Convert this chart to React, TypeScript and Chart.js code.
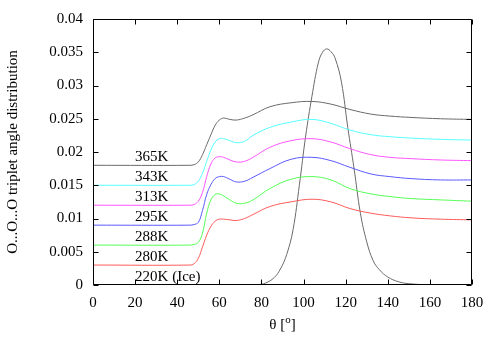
import React, { useEffect, useRef } from "react";
import { Chart, registerables } from "chart.js";

Chart.register(...registerables);

// Angle grid (degrees) for liquid curves
const THETA = [0, 46, 48, 50, 52, 54, 56, 58, 60, 62, 65, 68, 72, 76, 84, 94, 104, 113, 122, 132, 141, 151, 165, 180];

const T365 = [0.018, 0.018, 0.0181, 0.0185, 0.0196, 0.0211, 0.0226, 0.024, 0.0248, 0.0251, 0.0249, 0.0248, 0.0251, 0.0256, 0.0268, 0.0274, 0.0276, 0.0272, 0.0264, 0.0257, 0.0254, 0.0252, 0.025, 0.0249];
const T343 = [0.015, 0.015, 0.0151, 0.0156, 0.0168, 0.0186, 0.0203, 0.0215, 0.022, 0.022, 0.0217, 0.0214, 0.0216, 0.0225, 0.0237, 0.0245, 0.0249, 0.0243, 0.0233, 0.0226, 0.0223, 0.0221, 0.0219, 0.0218];
const T313 = [0.012, 0.012, 0.0121, 0.0126, 0.0139, 0.0163, 0.0182, 0.0191, 0.0193, 0.0192, 0.0188, 0.0185, 0.0186, 0.0192, 0.0207, 0.0217, 0.022, 0.0215, 0.0205, 0.0196, 0.0192, 0.019, 0.0188, 0.0187];
const T295 = [0.009, 0.009, 0.0091, 0.0094, 0.0112, 0.0136, 0.0151, 0.016, 0.0163, 0.0163, 0.0159, 0.0155, 0.0156, 0.0162, 0.0175, 0.0189, 0.0192, 0.0187, 0.0177, 0.0167, 0.0163, 0.016, 0.0158, 0.0158];
const T288 = [0.006, 0.006, 0.0061, 0.0064, 0.0078, 0.0108, 0.0128, 0.0136, 0.0137, 0.0134, 0.0128, 0.0123, 0.0123, 0.0128, 0.0145, 0.0159, 0.0163, 0.0158, 0.0145, 0.0137, 0.0133, 0.013, 0.0128, 0.0126];
const T280 = [0.003, 0.003, 0.0032, 0.004, 0.0057, 0.0075, 0.0088, 0.0096, 0.0099, 0.0099, 0.0098, 0.0097, 0.01, 0.0106, 0.0118, 0.0125, 0.0129, 0.0125, 0.0115, 0.0108, 0.0104, 0.0101, 0.0099, 0.0098];

// Ice (220K)
const THETA_ICE = [0, 70, 78, 82, 86, 89, 92, 95, 98, 101, 104, 107, 109, 111, 113, 115, 118, 121, 124, 127, 130, 133, 136, 140, 145, 150, 160, 180];
const T220 = [0, 0, 0.00005, 0.0003, 0.0011, 0.0024, 0.0046, 0.0083, 0.015, 0.0224, 0.0284, 0.0334, 0.035, 0.0355, 0.0351, 0.0341, 0.0305, 0.0237, 0.0175, 0.0108, 0.0065, 0.0037, 0.0023, 0.0012, 0.0005, 0.0002, 0.00003, 0];

const LABELS = ["365K", "343K", "313K", "295K", "288K", "280K", "220K (Ice)"];
const OFFSETS = [0.018, 0.015, 0.012, 0.009, 0.006, 0.003, 0];
const LABEL_THETA = 20;

const X_TICKS = [0, 20, 40, 60, 80, 100, 120, 140, 160, 180];
const Y_TICKS = [0, 0.005, 0.01, 0.015, 0.02, 0.025, 0.03, 0.035, 0.04];

const Y_TITLE = "O...O...O triplet angle distribution";

const FONT = "'Liberation Serif', 'DejaVu Serif', serif";
const FS = 15;

function pts(xs: number[], ys: number[]) {
  return xs.map((x, i) => ({ x, y: ys[i] }));
}

const framePlugin = {
  id: "gnuplotFrame",
  afterDraw(chart: any) {
    const { ctx, chartArea } = chart;
    const xs = chart.scales.x;
    const ys = chart.scales.y;
    const L = Math.round(chartArea.left) + 0.5;
    const R = Math.round(chartArea.right) - 0.5;
    const T = Math.round(chartArea.top) + 0.5;
    const B = Math.round(chartArea.bottom) - 0.5;
    ctx.save();
    ctx.strokeStyle = "#000";
    ctx.lineWidth = 1;
    ctx.beginPath();
    ctx.rect(L, T, R - L, B - T);
    ctx.stroke();
    const tl = 5;
    ctx.beginPath();
    X_TICKS.forEach((v) => {
      const px = Math.round(xs.getPixelForValue(v)) + 0.5;
      ctx.moveTo(px, B);
      ctx.lineTo(px, B - tl);
      ctx.moveTo(px, T);
      ctx.lineTo(px, T + tl);
    });
    Y_TICKS.forEach((v) => {
      const py = Math.round(ys.getPixelForValue(v)) + 0.5;
      ctx.moveTo(L, py);
      ctx.lineTo(L + tl, py);
      ctx.moveTo(R, py);
      ctx.lineTo(R - tl, py);
    });
    ctx.stroke();

    // curve labels
    ctx.fillStyle = "#000";
    ctx.font = `${FS}px ${FONT}`;
    ctx.textAlign = "left";
    ctx.textBaseline = "alphabetic";
    LABELS.forEach((lab, i) => {
      const px = xs.getPixelForValue(LABEL_THETA);
      const py = ys.getPixelForValue(OFFSETS[i]) - 4.5;
      ctx.fillText(lab, px, py);
    });

    // y title
    ctx.save();
    ctx.translate(13, (chartArea.top + chartArea.bottom) / 2);
    ctx.rotate(-Math.PI / 2);
    ctx.textAlign = "center";
    ctx.textBaseline = "middle";
    ctx.fillText(Y_TITLE, 0, 0);
    ctx.restore();

    // x title: θ [o] with superscript o
    const cx = (chartArea.left + chartArea.right) / 2;
    const base = 329;
    const p1 = "\u03b8 [";
    const p3 = "]";
    ctx.font = `${FS}px ${FONT}`;
    const w1 = ctx.measureText(p1).width;
    const w3 = ctx.measureText(p3).width;
    ctx.font = `11px ${FONT}`;
    const w2 = ctx.measureText("o").width;
    const total = w1 + w2 + w3;
    const x0 = cx - total / 2;
    ctx.textAlign = "left";
    ctx.font = `${FS}px ${FONT}`;
    ctx.fillText(p1, x0, base);
    ctx.font = `11px ${FONT}`;
    ctx.fillText("o", x0 + w1, base - 6);
    ctx.font = `${FS}px ${FONT}`;
    ctx.fillText(p3, x0 + w1 + w2, base);
    ctx.restore();
  },
};

export default function App() {
  const ref = useRef<HTMLCanvasElement | null>(null);
  useEffect(() => {
    if (!ref.current) return;
    const mk = (label: string, xs: number[], ys: number[], color: string) => ({
      label,
      data: pts(xs, ys),
      borderColor: color,
      backgroundColor: color,
      borderWidth: 1,
      pointRadius: 0,
      fill: false,
      tension: 0.4,
    });
    const chart = new Chart(ref.current, {
      type: "line",
      data: {
        datasets: [
          mk("365K", THETA, T365, "#6a6a6a"),
          mk("343K", THETA, T343, "#55ffff"),
          mk("313K", THETA, T313, "#ff55ff"),
          mk("295K", THETA, T295, "#5a5aff"),
          mk("288K", THETA, T288, "#55ff55"),
          mk("280K", THETA, T280, "#ff5a5a"),
          mk("220K (Ice)", THETA_ICE, T220, "#6a6a6a"),
        ],
      },
      options: {
        animation: false,
        responsive: false,
        layout: { padding: { left: 0, right: 28, top: 18, bottom: 0 } },
        plugins: { legend: { display: false }, tooltip: { enabled: false } },
        scales: {
          x: {
            type: "linear",
            min: 0,
            max: 180,
            grid: { display: false, drawTicks: false },
            border: { display: false },
            ticks: {
              stepSize: 20,
              color: "#000",
              padding: 9,
              maxRotation: 0,
              font: { family: FONT, size: FS },
            },
            afterFit: (s: any) => {
              s.height = 65;
            },
          },
          y: {
            type: "linear",
            min: 0,
            max: 0.04,
            grid: { display: false, drawTicks: false },
            border: { display: false },
            ticks: {
              stepSize: 0.005,
              color: "#000",
              padding: 10,
              font: { family: FONT, size: FS },
              callback: (v: any) => String(parseFloat(Number(v).toFixed(3))),
            },
            afterFit: (s: any) => {
              s.width = 93;
            },
          },
        },
      },
      plugins: [framePlugin],
    });
    return () => chart.destroy();
  }, []);
  return (
    <div style={{ position: "absolute", left: 0, top: 0, width: 500, height: 350 }}>
      <canvas ref={ref} width={500} height={350} style={{ display: "block" }} />
    </div>
  );
}
